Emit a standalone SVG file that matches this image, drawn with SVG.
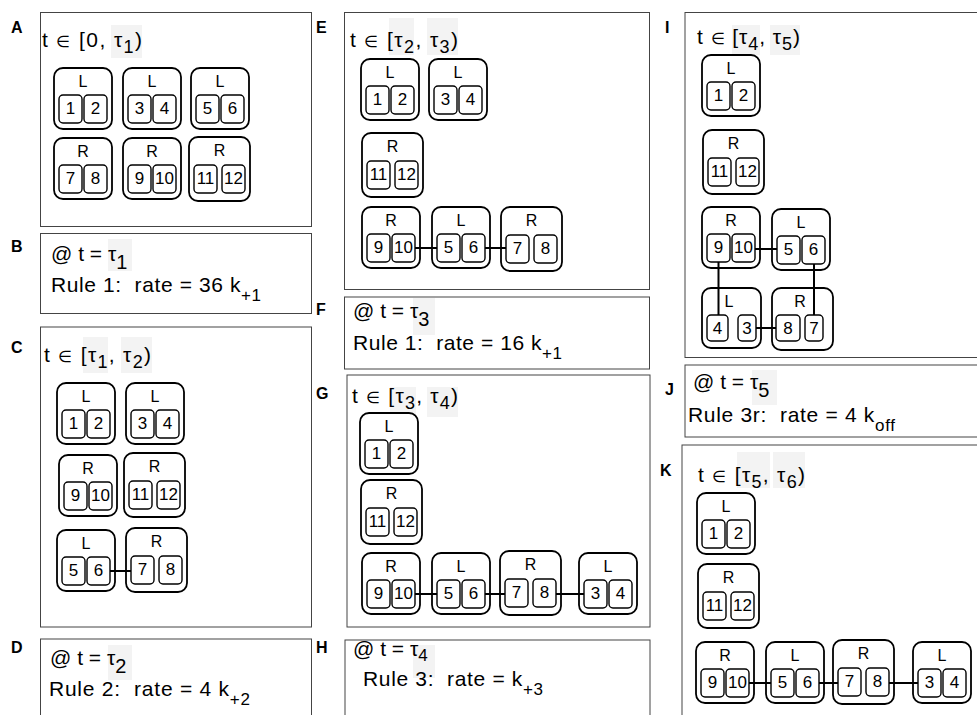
<svg xmlns="http://www.w3.org/2000/svg" width="977" height="715" viewBox="0 0 977 715">
<style>
.pn{fill:none;stroke:#444;stroke-width:1}
.cx{fill:#fff;stroke:#000;stroke-width:1.8}
.in{fill:#fff;stroke:#000;stroke-width:1.4}
.hl{fill:#f3f3f3}
text{font-family:"Liberation Sans",Arial,sans-serif;fill:#000}
.pl{font-size:16px;font-weight:bold}
.tt{font-size:21px;white-space:pre}
.el{font-size:16px}
.s1{font-size:18px}
.s2{font-size:20px}
.s3{font-size:17px}
.lab{font-size:16px;text-anchor:middle}
.n{font-size:17px;text-anchor:middle}
.cn line{stroke:#000;stroke-width:2}
</style>
<defs>
<g id="f"><rect class="cx" width="58" height="61" rx="9"/><rect class="in" x="5" y="27" width="23" height="28" rx="4"/><rect class="in" x="30" y="27" width="23" height="28" rx="4"/></g>
<g id="fw"><rect class="cx" width="61" height="64" rx="9"/><rect class="in" x="5" y="28" width="23" height="28" rx="4"/><rect class="in" x="33" y="28" width="23" height="28" rx="4"/></g>
</defs>
<rect width="977" height="715" fill="#fff"/>

<!-- Panel A -->
<g id="panel-A">
<rect class="pn" x="40.5" y="12.5" width="271" height="214"/>
<text class="pl" x="11" y="33">A</text>
<rect class="hl" x="111" y="25" width="31" height="33"/>
<text class="tt" x="42" y="47" textLength="100" lengthAdjust="spacing">t <tspan class="el">∈</tspan> [0, τ<tspan dy="6" class="s1">1</tspan><tspan dy="-6">)</tspan></text>
</g>
<g id="A-L12" transform="translate(54,68)"><use href="#f"/><text class="lab" x="29" y="19">L</text><text class="n" x="16.5" y="46">1</text><text class="n" x="41.5" y="46">2</text></g>
<g id="A-L34" transform="translate(123,68)"><use href="#f"/><text class="lab" x="29" y="19">L</text><text class="n" x="16.5" y="46">3</text><text class="n" x="41.5" y="46">4</text></g>
<g id="A-L56" transform="translate(191,68)"><use href="#f"/><text class="lab" x="29" y="19">L</text><text class="n" x="16.5" y="46">5</text><text class="n" x="41.5" y="46">6</text></g>
<g id="A-R78" transform="translate(54,138)"><use href="#f"/><text class="lab" x="29" y="19">R</text><text class="n" x="16.5" y="46">7</text><text class="n" x="41.5" y="46">8</text></g>
<g id="A-R910" transform="translate(123,138)"><use href="#f"/><text class="lab" x="29" y="19">R</text><text class="n" x="16.5" y="46">9</text><text class="n" x="41.5" y="46">10</text></g>
<g id="A-R1112" transform="translate(189,137)"><use href="#fw"/><text class="lab" x="30.5" y="19">R</text><text class="n" x="16.5" y="47">11</text><text class="n" x="44.5" y="47">12</text></g>

<!-- Panel B -->
<g id="panel-B">
<rect class="pn" x="40.5" y="233.5" width="271" height="80"/>
<text class="pl" x="11" y="252">B</text>
<rect class="hl" x="108" y="239" width="24" height="32"/>
<text class="tt" x="51" y="261">@ t = τ<tspan dy="8" class="s2">1</tspan></text>
<text class="tt" x="51" y="292" textLength="210" lengthAdjust="spacing">Rule 1:  rate = 36 k<tspan dy="9" class="s3">+1</tspan></text>
</g>

<!-- Panel C -->
<g id="panel-C">
<rect class="pn" x="40.5" y="327" width="271" height="300"/>
<text class="pl" x="11" y="353">C</text>
<rect class="hl" x="83" y="337" width="25" height="36"/>
<rect class="hl" x="121" y="337" width="31" height="36"/>
<text class="tt" x="44" y="362" textLength="107" lengthAdjust="spacing">t <tspan class="el">∈</tspan> [τ<tspan dy="6" class="s1">1</tspan><tspan dy="-6">, τ</tspan><tspan dy="6" class="s1">2</tspan><tspan dy="-6">)</tspan></text>
</g>
<g id="C-L12" transform="translate(57,383)"><use href="#f"/><text class="lab" x="29" y="19">L</text><text class="n" x="16.5" y="46">1</text><text class="n" x="41.5" y="46">2</text></g>
<g id="C-L34" transform="translate(126,383)"><use href="#f"/><text class="lab" x="29" y="19">L</text><text class="n" x="16.5" y="46">3</text><text class="n" x="41.5" y="46">4</text></g>
<g id="C-R910" transform="translate(59,455)"><use href="#f"/><text class="lab" x="29" y="19">R</text><text class="n" x="16.5" y="46">9</text><text class="n" x="41.5" y="46">10</text></g>
<g id="C-R1112" transform="translate(124,453)"><use href="#fw"/><text class="lab" x="30.5" y="19">R</text><text class="n" x="16.5" y="47">11</text><text class="n" x="44.5" y="47">12</text></g>
<g id="C-L56" transform="translate(57,530)"><use href="#f"/><text class="lab" x="29" y="19">L</text><text class="n" x="16.5" y="46">5</text><text class="n" x="41.5" y="46">6</text></g>
<g id="C-R78" transform="translate(126,528)"><use href="#fw"/><text class="lab" x="30.5" y="19">R</text><text class="n" x="16.5" y="47">7</text><text class="n" x="44.5" y="47">8</text></g>

<!-- Panel D -->
<g id="panel-D">
<rect class="pn" x="40.5" y="639" width="271" height="100"/>
<text class="pl" x="11" y="653">D</text>
<rect class="hl" x="108" y="645" width="24" height="35"/>
<text class="tt" x="50" y="665">@ t = τ<tspan dy="8" class="s2">2</tspan></text>
<text class="tt" x="49" y="696" textLength="201" lengthAdjust="spacing">Rule 2:  rate = 4 k<tspan dy="9" class="s3">+2</tspan></text>
</g>

<!-- Panel E -->
<g id="panel-E">
<rect class="pn" x="344.5" y="12.5" width="305" height="277"/>
<text class="pl" x="316" y="33">E</text>
<rect class="hl" x="389" y="18" width="25" height="37"/>
<rect class="hl" x="427" y="18" width="31" height="37"/>
<text class="tt" x="350" y="47" textLength="108" lengthAdjust="spacing">t <tspan class="el">∈</tspan> [τ<tspan dy="6" class="s1">2</tspan><tspan dy="-6">, τ</tspan><tspan dy="6" class="s1">3</tspan><tspan dy="-6">)</tspan></text>
</g>
<g id="E-L12" transform="translate(361,59)"><use href="#f"/><text class="lab" x="29" y="19">L</text><text class="n" x="16.5" y="46">1</text><text class="n" x="41.5" y="46">2</text></g>
<g id="E-L34" transform="translate(429,59)"><use href="#f"/><text class="lab" x="29" y="19">L</text><text class="n" x="16.5" y="46">3</text><text class="n" x="41.5" y="46">4</text></g>
<g id="E-R1112" transform="translate(362,133)"><use href="#fw"/><text class="lab" x="30.5" y="19">R</text><text class="n" x="16.5" y="47">11</text><text class="n" x="44.5" y="47">12</text></g>
<g id="E-R910" transform="translate(362,207)"><use href="#f"/><text class="lab" x="29" y="19">R</text><text class="n" x="16.5" y="46">9</text><text class="n" x="41.5" y="46">10</text></g>
<g id="E-L56" transform="translate(432,207)"><use href="#f"/><text class="lab" x="29" y="19">L</text><text class="n" x="16.5" y="46">5</text><text class="n" x="41.5" y="46">6</text></g>
<g id="E-R78" transform="translate(501,207)"><use href="#fw"/><text class="lab" x="30.5" y="19">R</text><text class="n" x="16.5" y="47">7</text><text class="n" x="44.5" y="47">8</text></g>

<!-- Panel F -->
<g id="panel-F">
<rect class="pn" x="344.5" y="297" width="305" height="72"/>
<text class="pl" x="316" y="315">F</text>
<rect class="hl" x="413" y="298" width="22" height="37"/>
<text class="tt" x="353" y="318">@ t = τ<tspan dy="8" class="s2">3</tspan></text>
<text class="tt" x="353" y="350" textLength="209" lengthAdjust="spacing">Rule 1:  rate = 16 k<tspan dy="9" class="s3">+1</tspan></text>
</g>

<!-- Panel G -->
<g id="panel-G">
<rect class="pn" x="347" y="375" width="303" height="252"/>
<text class="pl" x="316" y="399">G</text>
<rect class="hl" x="390" y="387" width="26" height="30"/>
<rect class="hl" x="427" y="387" width="31" height="30"/>
<text class="tt" x="352" y="403" textLength="106" lengthAdjust="spacing">t <tspan class="el">∈</tspan> [τ<tspan dy="6" class="s1">3</tspan><tspan dy="-6">, τ</tspan><tspan dy="6" class="s1">4</tspan><tspan dy="-6">)</tspan></text>
</g>
<g id="G-L12" transform="translate(360,413)"><use href="#f"/><text class="lab" x="29" y="19">L</text><text class="n" x="16.5" y="46">1</text><text class="n" x="41.5" y="46">2</text></g>
<g id="G-R1112" transform="translate(361,480)"><use href="#fw"/><text class="lab" x="30.5" y="19">R</text><text class="n" x="16.5" y="47">11</text><text class="n" x="44.5" y="47">12</text></g>
<g id="G-R910" transform="translate(362,553)"><use href="#f"/><text class="lab" x="29" y="19">R</text><text class="n" x="16.5" y="46">9</text><text class="n" x="41.5" y="46">10</text></g>
<g id="G-L56" transform="translate(432,553)"><use href="#f"/><text class="lab" x="29" y="19">L</text><text class="n" x="16.5" y="46">5</text><text class="n" x="41.5" y="46">6</text></g>
<g id="G-R78" transform="translate(500,551)"><use href="#fw"/><text class="lab" x="30.5" y="19">R</text><text class="n" x="16.5" y="47">7</text><text class="n" x="44.5" y="47">8</text></g>
<g id="G-L34" transform="translate(579,553)"><use href="#f"/><text class="lab" x="29" y="19">L</text><text class="n" x="16.5" y="46">3</text><text class="n" x="41.5" y="46">4</text></g>

<!-- Panel H -->
<g id="panel-H">
<rect class="pn" x="345" y="640" width="305" height="100"/>
<text class="pl" x="316" y="653">H</text>
<rect class="hl" x="413" y="645" width="22" height="33"/>
<text class="tt" x="353" y="656">@ t = τ<tspan dy="5" class="s3">4</tspan></text>
<text class="tt" x="363" y="686" textLength="180" lengthAdjust="spacing">Rule 3:  rate = k<tspan dy="9" class="s3">+3</tspan></text>
</g>

<!-- Panel I -->
<g id="panel-I">
<rect class="pn" x="685" y="12.5" width="300" height="345"/>
<text class="pl" x="665" y="33">I</text>
<rect class="hl" x="732" y="25" width="28" height="30"/>
<rect class="hl" x="770" y="25" width="30" height="30"/>
<text class="tt" x="697" y="44" textLength="103" lengthAdjust="spacing">t <tspan class="el">∈</tspan> [τ<tspan dy="6" class="s1">4</tspan><tspan dy="-6">, τ</tspan><tspan dy="6" class="s1">5</tspan><tspan dy="-6">)</tspan></text>
</g>
<g id="I-L12" transform="translate(702,55)"><use href="#f"/><text class="lab" x="29" y="19">L</text><text class="n" x="16.5" y="46">1</text><text class="n" x="41.5" y="46">2</text></g>
<g id="I-R1112" transform="translate(703,130)"><use href="#fw"/><text class="lab" x="30.5" y="19">R</text><text class="n" x="16.5" y="47">11</text><text class="n" x="44.5" y="47">12</text></g>
<g id="I-R910" transform="translate(702,207)"><use href="#f"/><text class="lab" x="29" y="19">R</text><text class="n" x="16.5" y="46">9</text><text class="n" x="41.5" y="46">10</text></g>
<g id="I-L56" transform="translate(772,209)"><use href="#f"/><text class="lab" x="29" y="19">L</text><text class="n" x="16.5" y="46">5</text><text class="n" x="41.5" y="46">6</text></g>
<g id="I-L43" transform="translate(702,288)"><rect class="cx" width="59" height="60" rx="9"/><rect class="in" x="5" y="27" width="21" height="26" rx="4"/><rect class="in" x="36" y="27" width="18" height="26" rx="4"/><text class="lab" x="27" y="19">L</text><text class="n" x="15.5" y="46">4</text><text class="n" x="45" y="46">3</text></g>
<g id="I-R87" transform="translate(772,288)"><rect class="cx" width="61" height="62" rx="9"/><rect class="in" x="4" y="27" width="24" height="26" rx="4"/><rect class="in" x="33" y="27" width="18" height="26" rx="4"/><text class="lab" x="28" y="19">R</text><text class="n" x="16" y="46">8</text><text class="n" x="42" y="46">7</text></g>

<!-- Panel J -->
<g id="panel-J">
<rect class="pn" x="685" y="365" width="300" height="72"/>
<text class="pl" x="665" y="395">J</text>
<rect class="hl" x="752" y="370" width="25" height="35"/>
<text class="tt" x="693" y="389">@ t = τ<tspan dy="8" class="s2">5</tspan></text>
<text class="tt" x="688" y="422" textLength="207" lengthAdjust="spacing">Rule 3r:  rate = 4 k<tspan dy="9" class="s3">off</tspan></text>
</g>

<!-- Panel K -->
<g id="panel-K">
<rect class="pn" x="682" y="445" width="300" height="300"/>
<text class="pl" x="660" y="476">K</text>
<rect class="hl" x="737" y="452" width="33" height="36"/>
<rect class="hl" x="773" y="452" width="32" height="36"/>
<text class="tt" x="698" y="482" textLength="107" lengthAdjust="spacing">t <tspan class="el">∈</tspan> [τ<tspan dy="6" class="s1">5</tspan><tspan dy="-6">, τ</tspan><tspan dy="6" class="s1">6</tspan><tspan dy="-6">)</tspan></text>
</g>
<g id="K-L12" transform="translate(697,493)"><use href="#f"/><text class="lab" x="29" y="19">L</text><text class="n" x="16.5" y="46">1</text><text class="n" x="41.5" y="46">2</text></g>
<g id="K-R1112" transform="translate(698,564)"><use href="#fw"/><text class="lab" x="30.5" y="19">R</text><text class="n" x="16.5" y="47">11</text><text class="n" x="44.5" y="47">12</text></g>
<g id="K-R910" transform="translate(696,642)"><use href="#f"/><text class="lab" x="29" y="19">R</text><text class="n" x="16.5" y="46">9</text><text class="n" x="41.5" y="46">10</text></g>
<g id="K-L56" transform="translate(766,642)"><use href="#f"/><text class="lab" x="29" y="19">L</text><text class="n" x="16.5" y="46">5</text><text class="n" x="41.5" y="46">6</text></g>
<g id="K-R78" transform="translate(833,640)"><use href="#fw"/><text class="lab" x="30.5" y="19">R</text><text class="n" x="16.5" y="47">7</text><text class="n" x="44.5" y="47">8</text></g>
<g id="K-L34" transform="translate(913,642)"><use href="#f"/><text class="lab" x="29" y="19">L</text><text class="n" x="16.5" y="46">3</text><text class="n" x="41.5" y="46">4</text></g>

<!-- Connectors -->
<g id="connectors" class="cn">
<line x1="110" y1="571" x2="131" y2="571"/>
<line x1="415" y1="248" x2="437" y2="248"/>
<line x1="485" y1="248" x2="506" y2="248"/>
<line x1="415" y1="594" x2="437" y2="594"/>
<line x1="485" y1="594" x2="505" y2="594"/>
<line x1="556" y1="594" x2="584" y2="594"/>
<line x1="755" y1="249" x2="777" y2="249"/>
<line x1="718.5" y1="262" x2="718.5" y2="315"/>
<line x1="814" y1="264" x2="814" y2="315"/>
<line x1="756" y1="328" x2="776" y2="328"/>
<line x1="749" y1="683" x2="771" y2="683"/>
<line x1="819" y1="683" x2="838" y2="683"/>
<line x1="889" y1="683" x2="918" y2="683"/>
</g>
</svg>
